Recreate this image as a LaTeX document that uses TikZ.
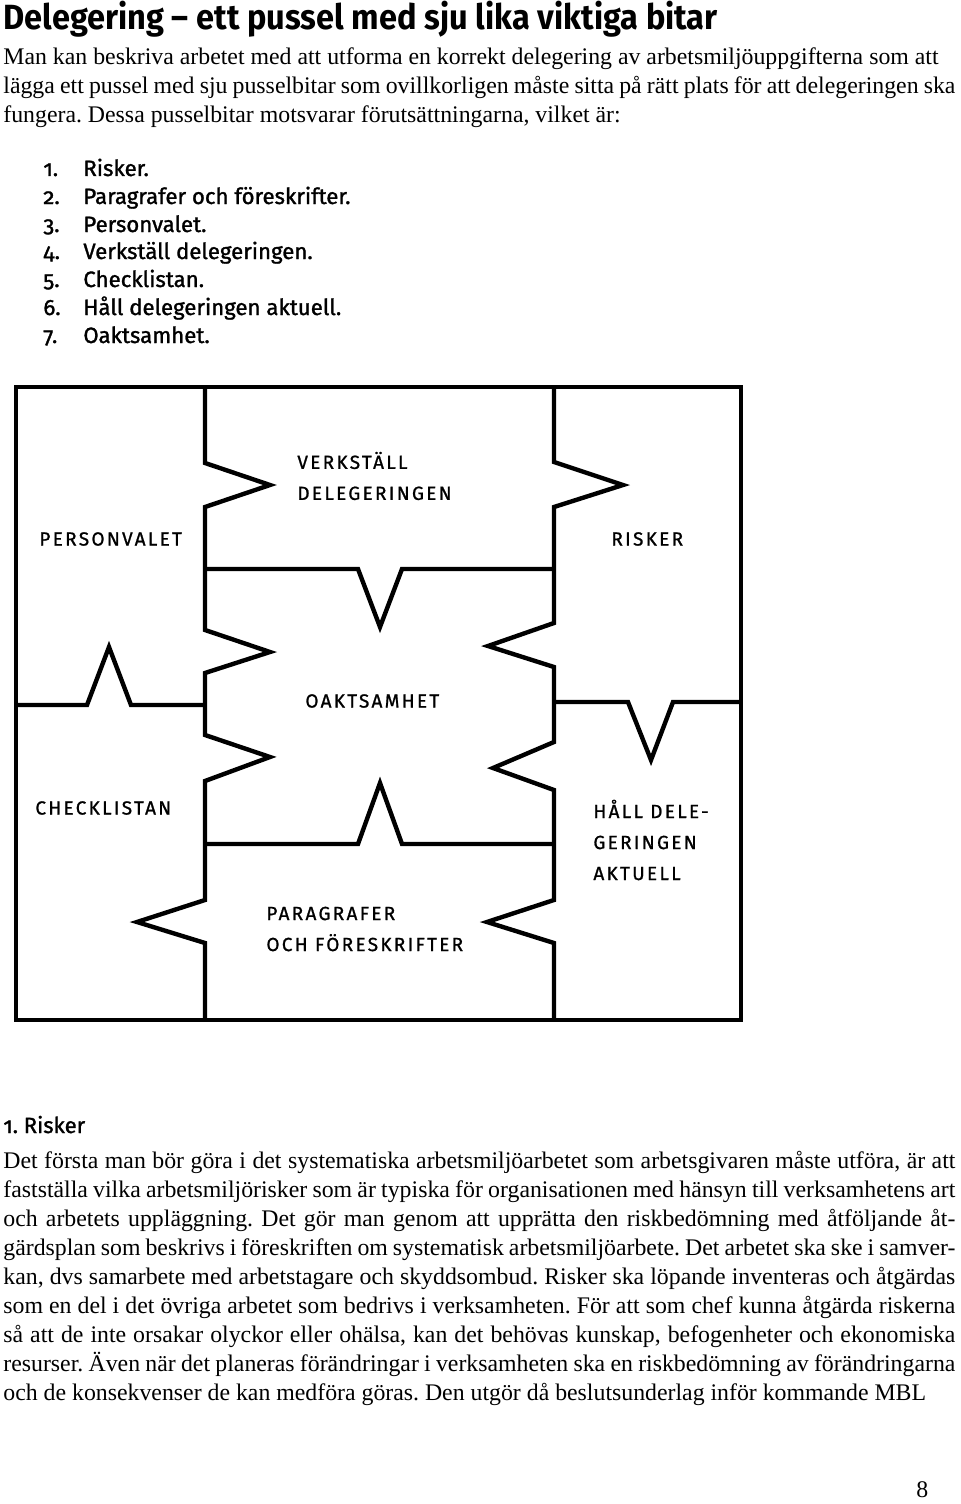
\documentclass[tikz,border=0pt]{standalone}
\usepackage{fontspec}
\setmainfont{Liberation Serif}
\setsansfont{Fira Sans}[Numbers=OldStyle]
\newfontfamily\piecefont{Fira Sans}[LetterSpace=12,FakeBold=1]
\newfontfamily\listfont{Fira Sans}[Numbers=OldStyle,FakeBold=1.3]
\usetikzlibrary{positioning}
\frenchspacing

\begin{document}
\begin{tikzpicture}[x=0.5pt,y=-0.5pt,
    piece/.style={line width=2.2pt},
    lbl/.style={anchor=west,inner sep=0pt,align=left,font=\piecefont\fontsize{9.5}{15.5}\selectfont},
    body/.style={anchor=base west,inner sep=0pt,text width=476pt,align=justify,font=\fontsize{11.9}{14.5}\selectfont},
    item/.style={anchor=base west,inner sep=0pt,font=\listfont\fontsize{11.1}{12}\selectfont}]
  \useasboundingbox (0,0) rectangle (960,1504);

  % heading and intro
  \node[anchor=base west,inner sep=0pt,font=\sffamily\bfseries\fontsize{17.5}{20}\selectfont] (title) at (3,30)
    {\scalebox{0.93}[1]{Delegering – ett pussel med sju lika viktiga bitar}};
  \node[body] (intro) at (3,65) {Man kan beskriva arbetet med att utforma en korrekt delegering av arbetsmiljöuppgifterna som att\\
    lägga ett pussel med sju pusselbitar som ovillkorligen måste sitta på rätt plats för att delegeringen ska\linebreak
    fungera. Dessa pusselbitar motsvarar förutsättningarna, vilket är:};

  % the seven pieces
  \node[item] (i1) at (43,176) {\makebox[20pt][l]{1.}Risker.};
  \node[item] (i2) at (43,204) {\makebox[20pt][l]{2.}Paragrafer och föreskrifter.};
  \node[item] (i3) at (43,232) {\makebox[20pt][l]{3.}Personvalet.};
  \node[item] (i4) at (43,259) {\makebox[20pt][l]{4.}Verkställ delegeringen.};
  \node[item] (i5) at (43,287) {\makebox[20pt][l]{5.}Checklistan.};
  \node[item] (i6) at (43,315) {\makebox[20pt][l]{6.}Håll delegeringen aktuell.};
  \node[item] (i7) at (43,343) {\makebox[20pt][l]{7.}Oaktsamhet.};

  % puzzle
  \draw[piece] (16,387) rectangle (741,1020);
  \draw[piece] (205,387) -- (205,463) -- (270,485) -- (205,507) -- (205,630) -- (270,652) -- (205,673)
    -- (205,735) -- (270,757) -- (205,781) -- (205,900) -- (137,922) -- (205,943) -- (205,1020);
  \draw[piece] (554,387) -- (554,462) -- (623,485) -- (554,507) -- (554,623) -- (488,646) -- (554,667)
    -- (554,742) -- (493,768) -- (554,790) -- (554,900) -- (487,922) -- (554,943) -- (554,1020);
  \draw[piece] (205,569) -- (358,569) -- (380,627) -- (402,569) -- (554,569);
  \draw[piece] (205,844) -- (358,844) -- (380,783) -- (402,844) -- (554,844);
  \draw[piece] (16,705) -- (87,705) -- (109,647) -- (131,705) -- (205,705);
  \draw[piece] (554,702) -- (628,702) -- (651,760) -- (673,702) -- (741,702);

  \node[lbl] (verk) at (297,476) {VERKSTÄLL\\DELEGERINGEN};
  \node[lbl] (pers) at (39,539) {PERSONVALET};
  \node[lbl] (risk) at (611,539) {RISKER};
  \node[lbl] (oakt) at (305,701) {OAKTSAMHET};
  \node[lbl] (check) at (35,808) {CHECKLISTAN};
  \node[lbl] (hall) at (593,840) {HÅLL DELE-\\GERINGEN\\AKTUELL};
  \node[lbl] (para) at (266,929) {PARAGRAFER\\OCH FÖRESKRIFTER};

  % section 1
  \node[anchor=base west,inner sep=0pt,font=\listfont\fontsize{11}{12}\selectfont] (sec) at (3,1133) {1. Risker};
  \node[body] (risktext) at (3,1168) {Det första man bör göra i det systematiska arbetsmiljöarbetet som arbetsgivaren måste utföra, är att\linebreak
    fastställa vilka arbetsmiljörisker som är typiska för organisationen med hänsyn till verksamhetens art\linebreak
    och arbetets uppläggning. Det gör man genom att upprätta den riskbedömning med åtföljande åt-\linebreak
    gärdsplan som beskrivs i föreskriften om systematisk arbetsmiljöarbete. Det arbetet ska ske i samver-\linebreak
    kan, dvs samarbete med arbetstagare och skyddsombud. Risker ska löpande inventeras och åtgärdas\linebreak
    som en del i det övriga arbetet som bedrivs i verksamheten. För att som chef kunna åtgärda riskerna\linebreak
    så att de inte orsakar olyckor eller ohälsa, kan det behövas kunskap, befogenheter och ekonomiska\linebreak
    resurser. Även när det planeras förändringar i verksamheten ska en riskbedömning av förändringarna\linebreak
    och de konsekvenser de kan medföra göras. Den utgör då beslutsunderlag inför kommande MBL};
  \node[anchor=base west,inner sep=0pt,font=\fontsize{11.9}{12}\selectfont] (page) at (916,1497) {8};
\end{tikzpicture}
\end{document}
